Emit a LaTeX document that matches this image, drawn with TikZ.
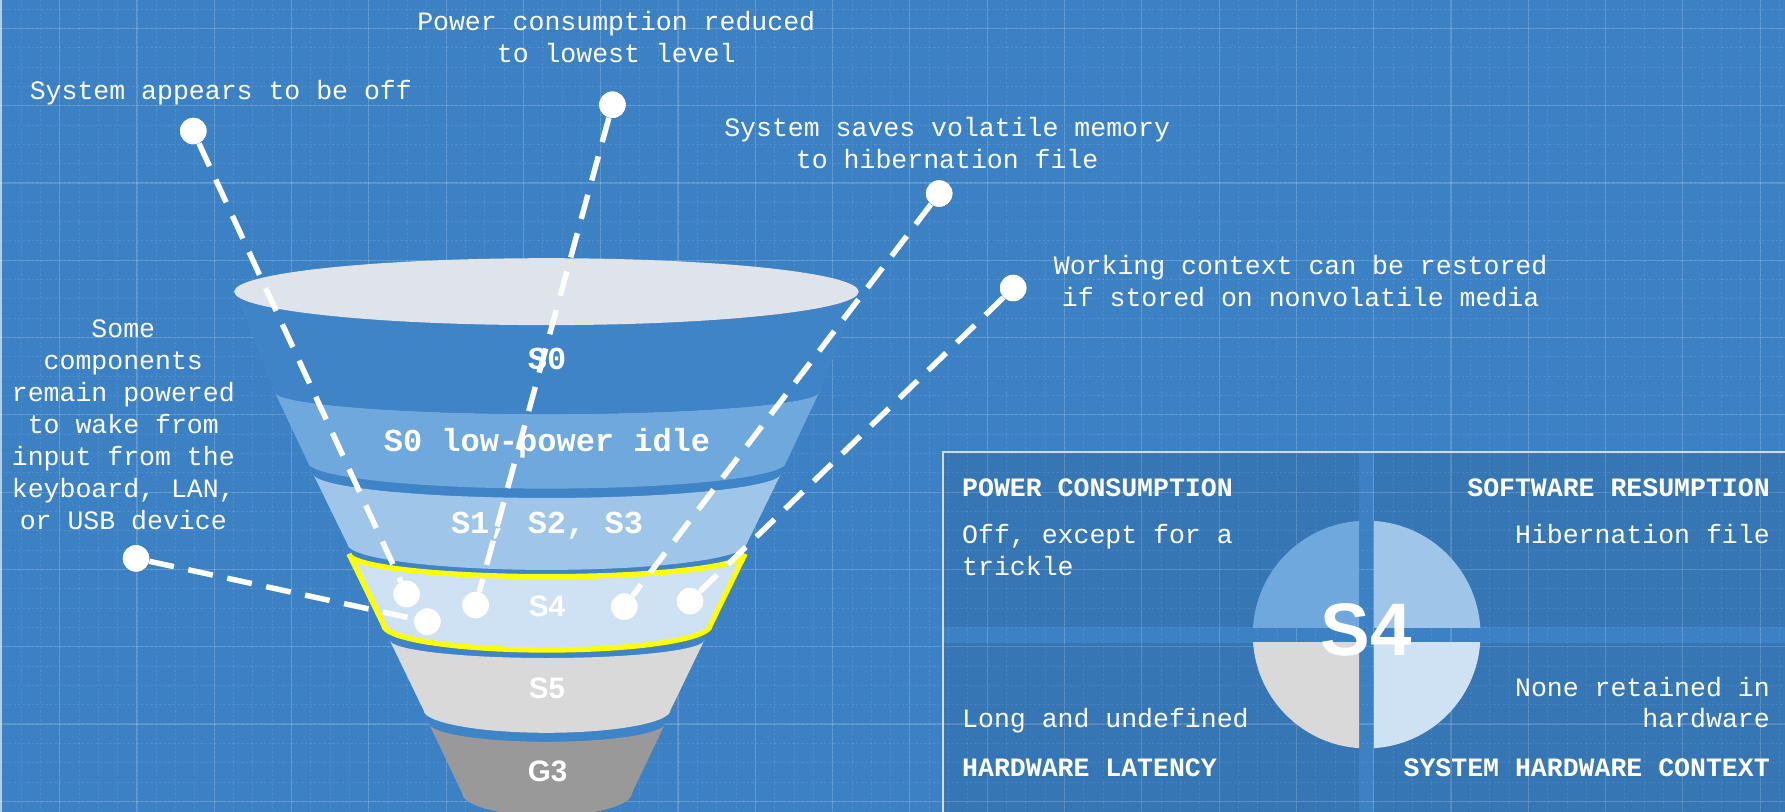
\documentclass[tikz,border=0pt]{standalone}
\usepackage{fontspec}
\newfontfamily\labelfont{Liberation Mono}
\newfontfamily\headfont{Liberation Sans}

\definecolor{bgblue}{HTML}{3B81C4}
\definecolor{bodyblue}{HTML}{3E84C7}
\definecolor{lpiblue}{HTML}{6FA8DC}
\definecolor{sleepblue}{HTML}{9FC5E8}
\definecolor{hibblue}{HTML}{CFE2F3}
\definecolor{softgray}{HTML}{D9D9D9}
\definecolor{deepgray}{HTML}{999999}
\definecolor{rimgray}{HTML}{DFE3EA}
\definecolor{hiyellow}{HTML}{FFFF00}
\definecolor{frameline}{HTML}{D0DBE6}

% one funnel layer: style, top y, top half width, top arc depth,
% bottom y, bottom half width, bottom arc depth
\newcommand\frustum[7]{%
  \path[#1] ({480.5-#3},#2)
    .. controls ({480.5-#3},{#2+0.5523*#4}) and ({480.5-0.5523*#3},{#2+#4}) .. (480.5,{#2+#4})
    .. controls ({480.5+0.5523*#3},{#2+#4}) and ({480.5+#3},{#2+0.5523*#4}) .. ({480.5+#3},#2)
    -- ({480.5+#6},#5)
    .. controls ({480.5+#6},{#5+0.5523*#7}) and ({480.5+0.5523*#6},{#5+#7}) .. (480.5,{#5+#7})
    .. controls ({480.5-0.5523*#6},{#5+#7}) and ({480.5-#6},{#5+0.5523*#7}) .. ({480.5-#6},#5)
    -- cycle;}
% the darker top face of a layer, partly hidden by the layer above
\newcommand\topface[3]{\fill[bodyblue] (480.5,#1) ellipse [x radius=#2, y radius=#3];}

\tikzset{
  gridmajor/.style={white, opacity=0.15, line width=0.5pt},
  gridminor/.style={white, opacity=0.1, line width=0.4pt, dash pattern=on 1pt off 1pt},
  note/.style={inner sep=0pt, text=white, font=\labelfont\fontsize{11.65pt}{14pt}\selectfont},
  notehead/.style={note, font=\labelfont\bfseries\fontsize{11.65pt}{14pt}\selectfont},
  layertext/.style={inner sep=0pt, text=white, anchor=base, font=\labelfont\bfseries\fontsize{14.05pt}{16pt}\selectfont},
  layersans/.style={inner sep=0pt, text=white, anchor=base, font=\headfont\bfseries\fontsize{13pt}{15pt}\selectfont},
  enddot/.style={circle, fill=white, inner sep=0pt, minimum size=11.6pt},
  leader/.style={white, line width=2.4pt, dash pattern=on 11pt off 6.5pt},
  quadbox/.style={fill=black, opacity=0.08},
}

\begin{document}
\begin{tikzpicture}[x=0.5pt, y=-0.5pt]
\useasboundingbox (0,0) rectangle (1568,713);

% blueprint background with grid
\fill[bgblue] (0,0) rectangle (1568,713);
\foreach \k in {-3,...,89}
  \draw[gridminor] ({52.4+16.975*\k},0) -- ({52.4+16.975*\k},713);
\foreach \k in {-1,...,41}
  \draw[gridminor] (0,{24.9+16.975*\k}) -- (1568,{24.9+16.975*\k});
\foreach \k in {0,...,22}
  \draw[gridmajor] ({52.4+67.9*\k},0) -- ({52.4+67.9*\k},713);
\foreach \k in {0,...,10}
  \draw[gridmajor] (0,{24.9+67.9*\k}) -- (1568,{24.9+67.9*\k});
\draw[white, opacity=0.6, line width=0.7pt] (1,0) -- (1,713);

% funnel, drawn from the bottom layer up
\topface{635}{104.1}{16.6}
\frustum{fill=deepgray}{635}{104.1}{16.6}{696.6}{74.6}{20}
\topface{562}{138.4}{16}
\frustum{fill=softgray}{562}{138.4}{16}{623.7}{108.5}{20}
\topface{486.5}{174}{20}
\frustum{fill=hibblue, draw=hiyellow, line width=2.3pt}{486.5}{174}{20}{549}{143.5}{22}
\topface{415.8}{205.7}{21.6}
\frustum{fill=sleepblue}{415.8}{205.7}{21.6}{478}{175.3}{22.6}
\topface{344}{239.4}{19.7}
\frustum{fill=lpiblue}{344}{239.4}{19.7}{406.2}{210}{23}
\frustum{fill=bodyblue}{256.2}{274.3}{29.4}{344}{239.4}{19.7}
\fill[rimgray] (480,256.2) ellipse [x radius=274.3, y radius=29.4];

% layer names
\node[layertext] (ls0) at (480.5,325) {S0};
\node[layertext] (llpi) at (480.5,396.8) {S0 low-power idle};
\node[layertext] (lsleep) at (480.5,468.5) {S1, S2, S3};
\node[layersans] (ls4) at (480.5,541.7) {S4};
\node[layersans] (ls5) at (480.5,613.4) {S5};
\node[layersans] (lg3) at (481,686.7) {G3};

% callout pins
\node[enddot] (off1) at (169.8,115.1) {};
\node[enddot] (off2) at (357.2,521.8) {};
\node[enddot] (low1) at (538,92) {};
\node[enddot] (low2) at (417.8,531.5) {};
\node[enddot] (hib1) at (825,170) {};
\node[enddot] (hib2) at (548.4,532.9) {};
\node[enddot] (ctx1) at (890,253) {};
\node[enddot] (ctx2) at (606.1,528) {};
\node[enddot] (wake1) at (119.5,490.5) {};
\node[enddot] (wake2) at (375.4,546.1) {};
\draw[leader] (off1) -- (off2);
\draw[leader] (low1) -- (low2);
\draw[leader] (hib1) -- (hib2);
\draw[leader] (ctx1) -- (ctx2);
\draw[leader] (wake1) -- (wake2);
\node[enddot] at (off1) {};
\node[enddot] at (off2) {};
\node[enddot] at (low1) {};
\node[enddot] at (low2) {};
\node[enddot] at (hib1) {};
\node[enddot] at (hib2) {};
\node[enddot] at (ctx1) {};
\node[enddot] at (ctx2) {};
\node[enddot] at (wake1) {};
\node[enddot] at (wake2) {};

% callout texts
\node[note, anchor=base west] (toff) at (25.8,87.2) {System appears to be off};
\node[note, anchor=base] (tlowa) at (541.3,26.9) {Power consumption reduced};
\node[note, anchor=base] (tlowb) at (541.3,55) {to lowest level};
\node[note, anchor=base] (thiba) at (832,119.9) {System saves volatile memory};
\node[note, anchor=base] (thibb) at (832,147.9) {to hibernation file};
\node[note, anchor=base] (tctxa) at (1142.5,240.9) {Working context can be restored};
\node[note, anchor=base] (tctxb) at (1142.5,268.9) {if stored on nonvolatile media};
\node[note, anchor=base] (twa) at (108.3,296.3) {Some};
\node[note, anchor=base] (twb) at (108.3,324.5) {components};
\node[note, anchor=base] (twc) at (108.3,352.7) {remain powered};
\node[note, anchor=base] (twd) at (108.3,380.9) {to wake from};
\node[note, anchor=base] (twe) at (108.3,409.1) {input from the};
\node[note, anchor=base] (twf) at (108.3,437.3) {keyboard, LAN,};
\node[note, anchor=base] (twg) at (108.3,465.5) {or USB device};

% S4 summary panel: four tinted quarters and an outer frame
\fill[quadbox] (828,396.8) rectangle (1193.9,550.8);
\fill[quadbox] (1207,396.8) rectangle (1568,550.8);
\fill[quadbox] (828,564.4) rectangle (1193.9,713);
\fill[quadbox] (1207,564.4) rectangle (1568,713);
\draw[frameline, line width=0.8pt] (828,713) -- (828,396.8) -- (1568,396.8);

\begin{scope}
  \clip (1090,447) rectangle (1193.9,550.8);
  \fill[lpiblue] (1200.5,557.4) circle [radius=100];
\end{scope}
\begin{scope}
  \clip (1207,447) rectangle (1311,550.8);
  \fill[sleepblue] (1200.5,557.4) circle [radius=100];
\end{scope}
\begin{scope}
  \clip (1090,564.4) rectangle (1193.9,668);
  \fill[softgray] (1200.5,557.4) circle [radius=100];
\end{scope}
\begin{scope}
  \clip (1207,564.4) rectangle (1311,668);
  \fill[hibblue] (1200.5,557.4) circle [radius=100];
\end{scope}
\node[inner sep=0pt, text=white, anchor=base, font=\headfont\bfseries\fontsize{32.7pt}{36pt}\selectfont] (bigs4) at (1200,576.2) {S4};

\node[notehead, anchor=base west] (hpow) at (844.8,435.7) {POWER CONSUMPTION};
\node[notehead, anchor=base east] (hsoft) at (1555,435.7) {SOFTWARE RESUMPTION};
\node[note, anchor=base west] (vpowa) at (844.8,477.3) {Off, except for a};
\node[note, anchor=base west] (vpowb) at (844.8,505.1) {trickle};
\node[note, anchor=base east] (vsoft) at (1555,477.3) {Hibernation file};
\node[note, anchor=base east] (vctxa) at (1555,612) {None retained in};
\node[note, anchor=base east] (vctxb) at (1555,638.9) {hardware};
\node[note, anchor=base west] (vlat) at (844.8,638.9) {Long and undefined};
\node[notehead, anchor=base west] (hlat) at (844.8,681.7) {HARDWARE LATENCY};
\node[notehead, anchor=base east] (hctx) at (1555,681.7) {SYSTEM HARDWARE CONTEXT};
\end{tikzpicture}
\end{document}
